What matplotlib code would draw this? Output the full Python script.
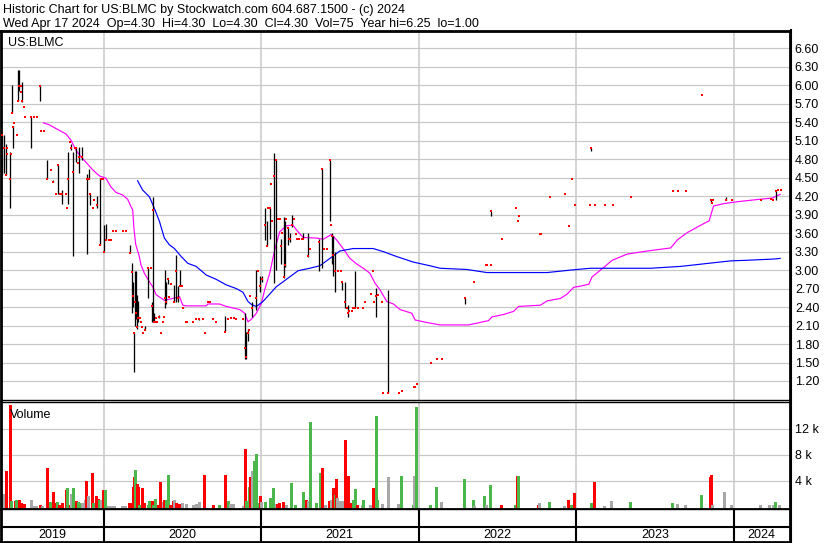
import matplotlib
matplotlib.use("Agg")
import matplotlib.pyplot as plt
from matplotlib.lines import Line2D

# ------------------------------------------------------------------ data
header_line1 = "Historic Chart for US:BLMC by Stockwatch.com 604.687.1500 - (c) 2024"
header_line2 = "Wed Apr 17 2024  Op=4.30  Hi=4.30  Lo=4.30  Cl=4.30  Vol=75  Year hi=6.25  lo=1.00"
symbol_label = "US:BLMC"
volume_label = "Volume"

# trading days (decimal years), daily high / low / close
bar_t = [2019.352, 2019.365, 2019.378, 2019.384, 2019.390, 2019.409, 2019.414, 2019.419, 2019.425, 2019.434,
         2019.449, 2019.454, 2019.460, 2019.473, 2019.476, 2019.484, 2019.493, 2019.502, 2019.542, 2019.559,
         2019.575, 2019.599, 2019.603, 2019.619, 2019.644, 2019.665, 2019.682, 2019.697, 2019.710, 2019.722,
         2019.739, 2019.761, 2019.767, 2019.775, 2019.786, 2019.794, 2019.807, 2019.817, 2019.824, 2019.835,
         2019.845, 2019.864, 2019.892, 2019.905, 2019.917, 2019.934, 2019.941, 2019.957, 2019.975, 2019.985,
         2019.994,
         2020.001, 2020.015, 2020.033, 2020.049, 2020.059, 2020.078, 2020.125, 2020.144, 2020.165, 2020.178,
         2020.185, 2020.193, 2020.202, 2020.208, 2020.215, 2020.221, 2020.232, 2020.240, 2020.246, 2020.253,
         2020.264, 2020.285, 2020.302, 2020.306, 2020.312, 2020.318, 2020.326, 2020.334, 2020.342, 2020.355,
         2020.367, 2020.378, 2020.384, 2020.390, 2020.397, 2020.412, 2020.418, 2020.429, 2020.446, 2020.463,
         2020.471, 2020.486, 2020.495, 2020.504, 2020.524, 2020.531, 2020.571, 2020.588, 2020.609, 2020.630,
         2020.643, 2020.663, 2020.676, 2020.698, 2020.715, 2020.770, 2020.791, 2020.806, 2020.827, 2020.843,
         2020.883, 2020.896, 2020.904, 2020.917, 2020.923, 2020.932, 2020.942, 2020.966, 2020.978, 2020.993,
         2021.004,
         2021.026, 2021.036, 2021.045, 2021.058, 2021.066, 2021.072, 2021.083, 2021.096, 2021.108, 2021.118,
         2021.125, 2021.136, 2021.146, 2021.152, 2021.158, 2021.169, 2021.178, 2021.184, 2021.199, 2021.206,
         2021.225, 2021.231, 2021.241, 2021.263, 2021.269, 2021.297, 2021.309, 2021.365, 2021.384, 2021.398,
         2021.416, 2021.437, 2021.445, 2021.451, 2021.459, 2021.468, 2021.489, 2021.507, 2021.515, 2021.534,
         2021.547, 2021.553, 2021.559, 2021.575, 2021.585, 2021.594, 2021.613, 2021.645, 2021.659, 2021.696,
         2021.708, 2021.717, 2021.727, 2021.740, 2021.766, 2021.772, 2021.808, 2021.876, 2021.893, 2021.969,
         2021.978, 2021.988,
         2022.078, 2022.116, 2022.148, 2022.294, 2022.355, 2022.426, 2022.436, 2022.459, 2022.463, 2022.531,
         2022.621, 2022.633, 2022.640, 2022.769, 2022.780, 2022.837, 2022.932, 2022.958, 2022.977, 2022.996,
         2023.089, 2023.096, 2023.123, 2023.181, 2023.232, 2023.346, 2023.613, 2023.645, 2023.696, 2023.798,
         2023.855, 2023.862, 2023.872, 2023.951, 2023.989,
         2024.174, 2024.237, 2024.250, 2024.269, 2024.282, 2024.301]

bar_high = [5.19, 5.20, 5.05, 4.99, 4.88, 4.92, 4.88, 6.00, 5.34, 5.39,
            5.20, 6.25, 6.25, 5.89, 5.99, 6.05, 5.64, 5.49, 5.49, 5.49,
            5.49, 6.00, 5.25, 5.25, 4.79, 4.63, 4.46, 4.24, 4.70, 4.24,
            4.30, 4.24, 4.00, 4.92, 5.08, 5.05, 4.91, 4.99, 5.00, 4.74,
            5.00, 5.00, 4.56, 4.64, 4.24, 4.01, 4.14, 4.20, 4.50, 4.48,
            4.48,
            3.74, 3.75, 3.49, 3.49, 3.64, 3.64, 3.64, 3.64, 3.41, 3.12,
            2.80, 1.99, 2.99, 2.99, 2.60, 2.50, 2.23, 2.16, 2.08, 1.98,
            2.10, 3.03, 3.03, 2.48, 4.19, 2.30, 2.16, 2.23, 2.16, 2.27,
            1.98, 2.16, 2.24, 3.00, 2.80, 2.86, 2.57, 2.77, 2.76, 3.24,
            2.75, 3.00, 2.74, 2.40, 2.18, 2.16, 2.16, 2.20, 2.21, 2.20,
            2.00, 2.49, 2.49, 2.20, 2.15, 2.25, 2.20, 2.23, 2.23, 2.20,
            2.20, 2.30, 2.00, 2.05, 2.03, 2.58, 2.48, 3.00, 2.99, 2.90,
            2.90,
            4.01, 3.80, 4.00, 4.00, 4.39, 3.79, 4.90, 4.78, 3.83, 3.83,
            3.50, 3.61, 3.87, 3.80, 3.83, 3.70, 3.50, 3.60, 3.89, 3.83,
            3.59, 3.50, 3.50, 3.50, 3.60, 3.60, 3.35, 3.50, 4.66, 3.35,
            3.35, 4.79, 3.73, 3.60, 3.55, 3.30, 2.99, 2.99, 2.80, 2.80,
            2.39, 2.43, 2.33, 2.33, 2.39, 2.99, 2.39, 2.39, 2.49, 2.62,
            2.99, 2.49, 2.71, 2.60, 2.49, 1.00, 2.68, 1.00, 1.04, 1.10,
            1.10, 1.15,
            1.49, 1.55, 1.55, 2.55, 2.80, 3.09, 3.09, 3.96, 3.09, 3.50,
            4.00, 3.79, 3.88, 3.59, 3.59, 4.19, 4.24, 3.72, 4.48, 4.05,
            4.05, 4.99, 4.05, 4.05, 4.05, 4.19, 4.29, 4.29, 4.29, 5.85,
            4.16, 4.09, 4.14, 4.18, 4.14,
            4.14, 4.16, 4.14, 4.29, 4.30, 4.30]

bar_low = [4.54, 4.57, 4.54, 4.99, 4.88, 4.00, 4.88, 5.55, 4.98, 5.39,
           5.20, 5.75, 5.90, 5.89, 5.99, 5.73, 5.64, 5.49, 4.98, 5.49,
           5.49, 5.75, 5.25, 5.25, 4.48, 4.63, 4.43, 4.24, 4.24, 4.24,
           4.07, 4.24, 4.00, 4.07, 5.08, 4.95, 3.23, 4.99, 4.75, 4.74,
           4.58, 4.79, 3.26, 4.48, 4.06, 4.01, 4.14, 4.00, 3.41, 4.48,
           4.48,
           3.29, 3.49, 3.49, 3.49, 3.64, 3.64, 3.64, 3.64, 3.28, 2.30,
           2.40, 1.35, 2.10, 2.20, 2.05, 2.15, 2.23, 2.16, 2.08, 1.98,
           2.03, 2.55, 3.03, 2.16, 2.16, 2.16, 2.16, 2.23, 2.16, 2.22,
           1.98, 2.16, 2.24, 2.38, 2.45, 2.78, 2.57, 2.77, 2.49, 2.49,
           2.49, 2.74, 2.74, 2.38, 2.16, 2.16, 2.16, 2.20, 2.19, 2.20,
           1.98, 2.49, 2.49, 2.20, 2.15, 1.99, 2.20, 2.23, 2.23, 2.20,
           2.20, 1.56, 1.56, 1.85, 2.03, 2.58, 2.24, 2.35, 2.99, 2.65,
           2.80,
           3.49, 3.39, 4.00, 3.50, 4.39, 3.79, 2.79, 3.00, 3.83, 3.83,
           3.10, 3.61, 2.87, 3.05, 3.83, 3.40, 3.50, 3.45, 3.70, 3.83,
           3.59, 3.50, 3.50, 3.50, 3.50, 3.22, 3.35, 2.99, 3.03, 3.35,
           3.35, 3.79, 3.73, 3.10, 2.90, 2.65, 2.99, 2.99, 2.68, 2.38,
           2.39, 2.24, 2.33, 2.33, 2.39, 2.38, 2.39, 2.39, 2.49, 2.62,
           2.99, 2.49, 2.24, 2.60, 2.49, 1.00, 1.00, 1.00, 1.04, 1.10,
           1.10, 1.15,
           1.49, 1.55, 1.55, 2.45, 2.80, 3.09, 3.09, 3.88, 3.09, 3.50,
           4.00, 3.79, 3.88, 3.59, 3.59, 4.19, 4.24, 3.72, 4.48, 4.05,
           4.05, 4.93, 4.05, 4.05, 4.05, 4.19, 4.29, 4.29, 4.29, 5.85,
           4.09, 4.09, 4.14, 4.14, 4.14,
           4.14, 4.16, 4.14, 4.13, 4.30, 4.30]

bar_close = [5.19, 4.99, 4.54, 4.99, 4.88, 4.48, 4.88, 5.55, 5.32, 5.39,
             5.20, 5.75, 5.99, 5.89, 5.99, 5.75, 5.64, 5.49, 5.49, 5.49,
             5.49, 5.99, 5.25, 5.25, 4.48, 4.63, 4.43, 4.24, 4.70, 4.24,
             4.24, 4.24, 4.00, 4.48, 5.08, 4.99, 4.60, 4.99, 4.99, 4.74,
             4.84, 4.84, 4.48, 4.48, 4.24, 4.01, 4.14, 4.06, 3.41, 4.48,
             4.48,
             3.29, 3.49, 3.49, 3.49, 3.64, 3.64, 3.64, 3.64, 3.28, 2.97,
             2.58, 1.98, 2.49, 2.30, 2.08, 2.23, 2.23, 2.16, 2.08, 1.98,
             2.03, 3.03, 3.03, 2.42, 3.98, 2.16, 2.16, 2.23, 2.16, 2.24,
             1.98, 2.16, 2.24, 2.54, 2.49, 2.86, 2.57, 2.77, 2.49, 2.99,
             2.54, 2.74, 2.74, 2.39, 2.16, 2.16, 2.16, 2.20, 2.20, 2.20,
             1.98, 2.49, 2.49, 2.20, 2.15, 2.00, 2.20, 2.23, 2.23, 2.20,
             2.20, 1.74, 1.59, 1.98, 2.03, 2.58, 2.39, 2.55, 2.99, 2.75,
             2.85,
             3.74, 3.39, 4.00, 4.00, 4.39, 3.79, 4.53, 4.78, 3.83, 3.83,
             3.39, 3.61, 2.89, 3.08, 3.83, 3.69, 3.50, 3.50, 3.73, 3.83,
             3.59, 3.50, 3.50, 3.50, 3.50, 3.23, 3.35, 3.45, 4.64, 3.35,
             3.35, 4.79, 3.73, 3.55, 3.24, 2.99, 2.99, 2.99, 2.80, 2.49,
             2.39, 2.30, 2.33, 2.33, 2.39, 2.39, 2.39, 2.39, 2.49, 2.62,
             2.99, 2.49, 2.58, 2.60, 2.49, 1.00, 1.00, 1.00, 1.04, 1.10,
             1.10, 1.15,
             1.49, 1.55, 1.55, 2.55, 2.80, 3.09, 3.09, 3.96, 3.09, 3.50,
             4.00, 3.79, 3.88, 3.59, 3.59, 4.19, 4.24, 3.72, 4.48, 4.05,
             4.05, 4.99, 4.05, 4.05, 4.05, 4.19, 4.29, 4.29, 4.29, 5.85,
             4.14, 4.09, 4.14, 4.14, 4.14,
             4.14, 4.16, 4.14, 4.29, 4.30, 4.30]

# short moving average (magenta)
ma_short_t = [2019.618, 2019.654, 2019.718, 2019.761, 2019.793, 2019.824, 2019.856, 2019.892, 2019.930, 2019.973,
              2020.015, 2020.047, 2020.079, 2020.121, 2020.153, 2020.174, 2020.185, 2020.192, 2020.204, 2020.227,
              2020.238, 2020.259, 2020.291, 2020.312, 2020.334, 2020.386, 2020.439, 2020.482, 2020.503, 2020.524,
              2020.652, 2020.662, 2020.736, 2020.779, 2020.864, 2020.896, 2020.917, 2020.938, 2020.970, 2021.002,
              2021.023, 2021.055, 2021.087, 2021.118, 2021.161, 2021.203, 2021.225, 2021.267, 2021.352, 2021.394,
              2021.447, 2021.479, 2021.521, 2021.564, 2021.607, 2021.649, 2021.691, 2021.723, 2021.755, 2021.798,
              2021.840, 2021.882, 2021.957, 2021.978, 2022.052, 2022.137, 2022.317, 2022.391, 2022.444, 2022.466,
              2022.540, 2022.603, 2022.635, 2022.773, 2022.816, 2022.901, 2022.943, 2022.985, 2023.028, 2023.081,
              2023.102, 2023.155, 2023.230, 2023.325, 2023.452, 2023.601, 2023.643, 2023.707, 2023.771, 2023.845,
              2023.873, 2023.940, 2024.025, 2024.131, 2024.248, 2024.269, 2024.296]
ma_short_v = [5.39, 5.36, 5.27, 5.21, 5.11, 4.95, 4.84, 4.74, 4.63, 4.53,
              4.49, 4.35, 4.26, 4.22, 4.15, 4.03, 3.98, 3.70, 3.42, 3.22,
              3.08, 2.95, 2.81, 2.73, 2.60, 2.51, 2.54, 2.57, 2.43, 2.42,
              2.42, 2.45, 2.45, 2.41, 2.36, 2.30, 2.16, 2.20, 2.30, 2.46,
              2.68, 2.95, 3.33, 3.62, 3.72, 3.73, 3.65, 3.53, 3.52, 3.50,
              3.58, 3.49, 3.35, 3.19, 3.10, 3.03, 2.95, 2.79, 2.68, 2.49,
              2.45, 2.36, 2.30, 2.19, 2.15, 2.11, 2.11, 2.15, 2.18, 2.24,
              2.28, 2.33, 2.41, 2.43, 2.50, 2.54, 2.61, 2.72, 2.74, 2.77,
              2.89, 3.00, 3.16, 3.26, 3.31, 3.36, 3.49, 3.61, 3.70, 3.80,
              4.04, 4.08, 4.11, 4.14, 4.17, 4.20, 4.23]

# long moving average (blue)
ma_long_t = [2020.216, 2020.248, 2020.291, 2020.323, 2020.355, 2020.386, 2020.418, 2020.450, 2020.493, 2020.535,
             2020.588, 2020.652, 2020.715, 2020.779, 2020.843, 2020.885, 2020.917, 2020.940, 2020.970, 2021.012,
             2021.097, 2021.182, 2021.235, 2021.309, 2021.373, 2021.437, 2021.500, 2021.585, 2021.712, 2021.776,
             2021.861, 2021.967, 2022.073, 2022.137, 2022.307, 2022.434, 2022.625, 2022.816, 2022.964, 2023.092,
             2023.240, 2023.473, 2023.664, 2023.876, 2023.983, 2024.089, 2024.258, 2024.296]
ma_long_v = [4.45, 4.30, 4.19, 4.00, 3.79, 3.52, 3.41, 3.35, 3.22, 3.11,
             3.06, 2.92, 2.85, 2.76, 2.70, 2.64, 2.49, 2.44, 2.41, 2.49,
             2.73, 2.89, 2.99, 3.03, 3.07, 3.19, 3.31, 3.35, 3.35, 3.30,
             3.22, 3.13, 3.07, 3.03, 3.01, 2.96, 2.96, 2.96, 3.00, 3.03,
             3.03, 3.03, 3.06, 3.12, 3.15, 3.16, 3.18, 3.19]

# daily volume (shares) and direction: d = down, u = up, n = unchanged
vol_t = [2019.351, 2019.357, 2019.365, 2019.379, 2019.404, 2019.414, 2019.438, 2019.446, 2019.463, 2019.476,
         2019.486, 2019.495, 2019.538, 2019.559, 2019.572, 2019.595, 2019.610, 2019.640, 2019.659, 2019.680,
         2019.693, 2019.703, 2019.718, 2019.735, 2019.761, 2019.771, 2019.786, 2019.793, 2019.807, 2019.824,
         2019.839, 2019.850, 2019.863, 2019.884, 2019.888, 2019.901, 2019.926, 2019.936, 2019.955, 2019.964,
         2019.973, 2019.981, 2019.998,
         2020.011, 2020.027, 2020.043, 2020.059, 2020.068, 2020.119, 2020.138, 2020.164, 2020.174, 2020.185,
         2020.193, 2020.202, 2020.210, 2020.219, 2020.227, 2020.244, 2020.259, 2020.280, 2020.291, 2020.308,
         2020.316, 2020.329, 2020.344, 2020.361, 2020.376, 2020.386, 2020.397, 2020.412, 2020.423, 2020.439,
         2020.450, 2020.461, 2020.482, 2020.499, 2020.524, 2020.566, 2020.588, 2020.609, 2020.637, 2020.694,
         2020.736, 2020.768, 2020.789, 2020.800, 2020.821, 2020.885, 2020.896, 2020.906, 2020.923, 2020.932,
         2020.940, 2020.953, 2020.966, 2020.974, 2020.991,
         2021.002, 2021.023, 2021.055, 2021.076, 2021.097, 2021.101, 2021.114, 2021.139, 2021.161, 2021.193,
         2021.214, 2021.267, 2021.284, 2021.298, 2021.309, 2021.352, 2021.373, 2021.384, 2021.405, 2021.432,
         2021.443, 2021.458, 2021.468, 2021.475, 2021.483, 2021.500, 2021.511, 2021.532, 2021.543, 2021.553,
         2021.564, 2021.585, 2021.596, 2021.610, 2021.638, 2021.649, 2021.691, 2021.708, 2021.717, 2021.729,
         2021.738, 2021.766, 2021.804, 2021.871, 2021.887, 2021.963, 2021.971, 2021.982,
         2022.073, 2022.111, 2022.141, 2022.290, 2022.345, 2022.350, 2022.417, 2022.428, 2022.455, 2022.525,
         2022.614, 2022.622, 2022.629, 2022.756, 2022.767, 2022.829, 2022.926, 2022.950, 2022.971, 2022.990,
         2023.092, 2023.115, 2023.176, 2023.225, 2023.340, 2023.607, 2023.639, 2023.690, 2023.792, 2023.849,
         2023.857, 2023.866, 2023.942, 2023.982,
         2024.167, 2024.225, 2024.248, 2024.263, 2024.288]
vol_v = [2000, 2000, 2000, 5500, 15700, 900, 850, 1000, 1000, 600,
         400, 400, 1100, 150, 150, 300, 150, 6000, 700, 2300,
         500, 700, 200, 600, 2600, 2800, 300, 2000, 2900, 900,
         700, 600, 600, 1000, 4000, 1700, 5200, 500, 1700, 1200,
         1000, 1000, 2600,
         2600, 150, 150, 150, 100, 150, 150, 600, 600, 3100,
         4500, 5700, 3500, 3000, 300, 2900, 600, 250, 900, 900,
         300, 1200, 200, 3800, 700, 1000, 1000, 4900, 300, 900,
         1000, 500, 400, 500, 400, 200, 400, 700, 4900, 300,
         300, 4900, 900, 400, 400, 150, 8900, 900, 3100, 4600,
         5500, 7100, 8100, 600, 1700,
         700, 700, 1300, 2800, 400, 400, 500, 700, 300, 3600,
         300, 2200, 1100, 900, 13000, 600, 5200, 5900, 200, 800,
         1000, 2900, 1800, 4200, 1400, 800, 800, 10300, 600, 4700,
         600, 1100, 2700, 200, 300, 1100, 200, 2900, 2600, 13900,
         1100, 400, 4500, 400, 4700, 200, 4700, 15300,
         200, 3000, 700, 4300, 1100, 150, 1600, 300, 3300, 300,
         200, 4700, 4700, 300, 500, 700, 150, 1000, 200, 2100,
         500, 3800, 150, 800, 700, 500, 400, 200, 1800, 4600,
         4800, 300, 2200, 300,
         300, 200, 200, 700, 200]
vol_dir = ['d', 'n', 'n', 'd', 'd', 'u', 'd', 'u', 'd', 'd',
           'd', 'd', 'n', 'n', 'n', 'd', 'n', 'd', 'u', 'd',
           'd', 'u', 'd', 'd', 'd', 'u', 'd', 'n', 'u', 'd',
           'u', 'u', 'n', 'n', 'd', 'n', 'd', 'u', 'd', 'd',
           'u', 'n', 'd',
           'u', 'n', 'n', 'n', 'n', 'n', 'n', 'd', 'd', 'd',
           'd', 'u', 'd', 'd', 'u', 'd', 'd', 'u', 'u', 'd',
           'u', 'u', 'd', 'd', 'n', 'd', 'u', 'u', 'd', 'd',
           'n', 'd', 'd', 'n', 'n', 'n', 'n', 'n', 'd', 'd',
           'u', 'd', 'u', 'n', 'n', 'n', 'd', 'u', 'u', 'd',
           'n', 'u', 'u', 'u', 'd',
           'n', 'u', 'u', 'u', 'n', 'd', 'd', 'd', 'n', 'u',
           'u', 'u', 'd', 'n', 'u', 'u', 'u', 'd', 'n', 'd',
           'n', 'd', 'u', 'd', 'n', 'n', 'n', 'd', 'd', 'd',
           'd', 'u', 'u', 'd', 'n', 'u', 'n', 'd', 'd', 'u',
           'u', 'n', 'n', 'n', 'u', 'u', 'n', 'u',
           'u', 'u', 'n', 'u', 'u', 'n', 'u', 'n', 'u', 'd',
           'u', 'd', 'u', 'd', 'n', 'u', 'n', 'd', 'u', 'd',
           'u', 'd', 'n', 'n', 'u', 'u', 'n', 'n', 'u', 'd',
           'd', 'n', 'n', 'n',
           'n', 'n', 'n', 'u', 'n']

price_ticks = [1.20, 1.50, 1.80, 2.10, 2.40, 2.70, 3.00, 3.30, 3.60, 3.90,
               4.20, 4.50, 4.80, 5.10, 5.40, 5.70, 6.00, 6.30, 6.60]
vol_ticks = [4000, 8000, 12000]
vol_tick_labels = ["4 k", "8 k", "12 k"]
year_starts = [2020, 2021, 2022, 2023, 2024]
year_labels = ["2019", "2020", "2021", "2022", "2023", "2024"]

# ------------------------------------------------------------------ style
W, H, DPI = 830, 543, 100
FONT = "Liberation Sans"
FS = 9.0
TXT = "#000000"
GRID = "#c8c8c8"
RED = "#ff0000"
GREEN = "#4cb84c"
GREYV = "#a8a8a8"
MAGENTA = "#ff00ff"
BLUE = "#0000ff"
XLIM = (2019.3488, 2024.3584)
PLIM = (0.8915, 6.881)
VLIM = (-354, 16100)
ONE_PX = 72.0 / DPI

plt.rcParams['font.family'] = [FONT, 'DejaVu Sans']


def rect(x0, y0, x1, y1):
    return [x0 / W, 1 - y1 / H, (x1 - x0) / W, (y1 - y0) / H]


fig = plt.figure(figsize=(W / DPI, H / DPI), dpi=DPI)
fig.patch.set_facecolor("white")

ax_p = fig.add_axes(rect(1, 31, 790, 400))
ax_v = fig.add_axes(rect(1, 402, 790, 509))
ax_b = fig.add_axes(rect(1, 509, 790, 542))

for ax in (ax_p, ax_v, ax_b):
    ax.set_xlim(*XLIM)
    ax.set_xticks([])
    ax.set_facecolor("white")
    for s in ax.spines.values():
        s.set_color("black")
        s.set_linewidth(1.0)
    ax.spines['left'].set_linewidth(2.0)
    ax.spines['right'].set_linewidth(2.0)

# ---- price panel
ax_p.set_ylim(*PLIM)
ax_p.spines['top'].set_linewidth(2.0)
for p in price_ticks:
    ax_p.axhline(p, color=GRID, lw=ONE_PX * 1.2, zorder=0)
for ys in year_starts:
    ax_p.axvline(ys, color=GRID, lw=ONE_PX * 1.5, zorder=0)
ax_p.yaxis.tick_right()
ax_p.set_yticks(price_ticks)
ax_p.set_yticklabels([f"{p:.2f}" for p in price_ticks], fontsize=FS, color=TXT)
ax_p.tick_params(axis='y', length=0, pad=3.5)

hl_t = [t for t, h, l in zip(bar_t, bar_high, bar_low) if h > l]
hl_h = [h for h, l in zip(bar_high, bar_low) if h > l]
hl_l = [l for h, l in zip(bar_high, bar_low) if h > l]
ax_p.vlines(hl_t, hl_l, hl_h, color="black", lw=ONE_PX * 1.3, zorder=3)
ax_p.plot(ma_short_t, ma_short_v, color=MAGENTA, lw=0.85, zorder=2)
ax_p.plot(ma_long_t, ma_long_v, color=BLUE, lw=0.85, zorder=2)
ax_p.plot(bar_t, bar_close, ls="none", marker="s", ms=2.0, mew=0, color=RED, zorder=4)
ax_p.text(0.009, 0.985, symbol_label, transform=ax_p.transAxes, ha="left", va="top",
          fontsize=FS, color=TXT)

# ---- volume panel
ax_v.set_ylim(*VLIM)
ax_v.spines['bottom'].set_linewidth(2.0)
for v in vol_ticks:
    ax_v.axhline(v, color=GRID, lw=ONE_PX * 1.2, zorder=0)
for ys in year_starts:
    ax_v.axvline(ys, color=GRID, lw=ONE_PX * 1.5, zorder=0)
ax_v.yaxis.tick_right()
ax_v.set_yticks(vol_ticks)
ax_v.set_yticklabels(vol_tick_labels, fontsize=FS, color=TXT)
ax_v.tick_params(axis='y', length=0, pad=3.5)
cmap = {'d': RED, 'u': GREEN, 'n': GREYV}
ax_v.vlines(vol_t, VLIM[0], vol_v, colors=[cmap[d] for d in vol_dir], lw=ONE_PX * 2.6,
            antialiased=False, zorder=2)
ax_v.text(0.011, 0.93, volume_label, transform=ax_v.transAxes, ha="left", va="top",
          fontsize=FS, color=TXT)

# ---- date band
ax_b.set_ylim(0, 1)
ax_b.set_yticks([])
ax_b.spines['bottom'].set_linewidth(2.0)
ax_b.axhline(0.45, color="black", lw=1.5)
for ys in year_starts:
    ax_b.axvline(ys, color="black", lw=1.5)
edges = [XLIM[0]] + year_starts + [XLIM[1]]
for lab, a, b in zip(year_labels, edges[:-1], edges[1:]):
    ax_b.text((a + b) / 2, 0.22, lab, ha="center", va="center", fontsize=FS, color=TXT)

# right-hand axis line running through all panels
fig.add_artist(Line2D([790.5 / W, 790.5 / W], [1 - 30 / H, 1 - 543 / H], color="black", lw=1.5,
                      transform=fig.transFigure))

# ---- header
fig.text(3 / W, 1 - 12.5 / H, header_line1, ha="left", va="baseline", fontsize=FS, color=TXT)
fig.text(3 / W, 1 - 27 / H, header_line2, ha="left", va="baseline", fontsize=FS, color=TXT)

fig.savefig("out.png", dpi=DPI, facecolor="white")
